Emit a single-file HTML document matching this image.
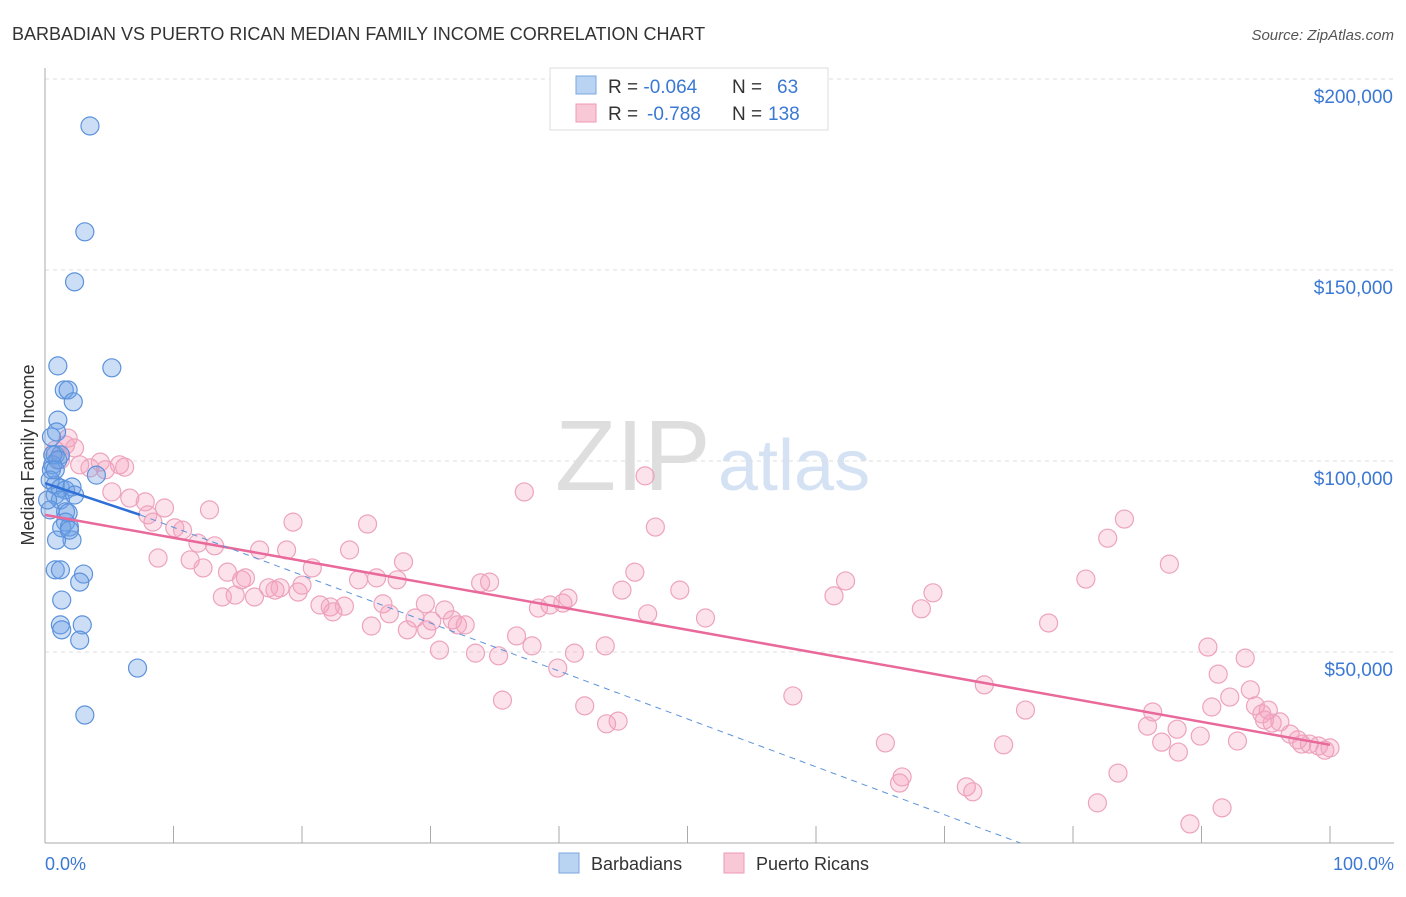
<!DOCTYPE html>
<html><head><meta charset="utf-8"><style>
body{margin:0;background:#fff;font-family:"Liberation Sans",sans-serif;}
svg text{font-family:"Liberation Sans",sans-serif;}
</style></head><body>
<svg id="chart" width="1406" height="892">
<text x="12" y="40" font-size="18" fill="#333">BARBADIAN VS PUERTO RICAN MEDIAN FAMILY INCOME CORRELATION CHART</text>
<text x="1394" y="40" font-size="15" fill="#555" font-style="italic" text-anchor="end">Source: ZipAtlas.com</text>
<text x="555" y="490" font-size="100" fill="#dedede" font-family="Liberation Serif">ZIP</text>
<text x="718" y="490" font-size="72" fill="#d4e2f4">atlas</text>
<g id="grid"></g>
<g id="axes"></g>
<g id="marks"></g>
<text transform="translate(34,455) rotate(-90)" font-size="18" fill="#333" text-anchor="middle">Median Family Income</text>
<text x="45" y="870" font-size="18" fill="#3a78d4">0.0%</text>
<text x="1394" y="870" font-size="18" fill="#3a78d4" text-anchor="end">100.0%</text>
<g>
<rect x="550" y="68" width="278" height="62" fill="#fff" stroke="#ddd"/>
<rect x="576" y="76" width="20" height="18" fill="#b9d3f3" stroke="#7aa7e0"/>
<rect x="576" y="104" width="20" height="18" fill="#f9c8d6" stroke="#ee9ab4"/>
<text x="608" y="93" font-size="19" fill="#333">R = <tspan fill="#3a78d4">-0.064</tspan><tspan x="732">N = </tspan><tspan x="777" fill="#3a78d4">63</tspan></text>
<text x="608" y="120" font-size="19" fill="#333">R = <tspan x="647" fill="#3a78d4">-0.788</tspan><tspan x="732">N = </tspan><tspan x="768" fill="#3a78d4">138</tspan></text>
</g>
<g>
<rect x="559" y="853" width="20" height="20" fill="#b9d3f3" stroke="#7aa7e0"/>
<text x="591" y="870" font-size="18" fill="#333">Barbadians</text>
<rect x="724" y="853" width="20" height="20" fill="#f9c8d6" stroke="#ee9ab4"/>
<text x="756" y="870" font-size="18" fill="#333">Puerto Ricans</text>
</g>
</svg>
<script>
const yTicks=[50,100,150,200];
const yTickLabels=["$50,000","$100,000","$150,000","$200,000"];
const xTicks=[0,10,20,30,40,50,60,70,80,90,100];
const blueX=[3.5,3.1,2.3,5.2,1.0,1.5,1.8,2.2,1.0,0.9,0.5,0.8,1.2,0.6,0.5,0.4,0.8,1.2,1.6,2.1,4.0,0.8,1.2,1.6,1.8,1.6,1.3,1.9,2.1,0.9,0.8,1.2,3.0,2.7,1.3,2.9,1.2,1.3,2.7,7.2,3.1,0.4,1.9,2.3,0.6,1.0,0.8,0.2];
const blueY=[187.7,160.0,146.9,124.4,124.9,118.6,118.6,115.5,110.7,107.6,106.3,101.6,101.6,99.0,97.7,95.0,93.7,92.9,92.4,93.2,96.3,91.1,89.8,86.7,86.4,84.0,82.5,82.7,79.3,79.3,71.5,71.5,70.4,68.3,63.6,57.1,57.1,55.8,53.1,45.8,33.5,87.2,81.9,91.1,101.6,100.3,97.7,89.8];
const pinkX=[0.8,1.6,1.8,1.2,2.3,2.7,3.5,4.3,4.7,5.8,6.2,5.2,6.6,7.8,8.0,9.3,8.4,10.1,10.7,8.8,11.3,11.9,12.8,12.3,13.2,13.8,14.2,14.8,15.3,15.6,16.3,16.7,17.4,17.9,18.3,18.8,19.3,19.7,20.0,20.8,21.4,22.2,22.4,23.3,23.7,24.4,25.1,25.4,25.8,26.3,26.8,27.4,27.9,28.2,28.8,29.6,29.7,30.1,30.7,31.1,31.7,32.1,32.7,33.5,33.9,34.6,35.3,35.6,36.7,37.3,37.9,38.4,39.3,40.3,40.7,39.9,41.2,42.0,43.6,43.7,44.6,44.9,45.9,46.7,46.9,47.5,49.4,51.4,58.2,61.4,62.3,65.4,66.5,66.7,68.2,69.1,71.7,72.2,73.1,74.6,76.3,78.1,81.0,81.9,82.7,83.5,84.0,85.8,86.2,86.9,87.5,88.1,88.2,89.1,89.9,90.5,90.8,91.3,91.6,92.2,92.8,93.4,93.8,94.2,94.7,95.2,95.5,96.1,96.9,97.8,98.4,99.1,99.6,100,97.5,94.9];
const pinkY=[102.9,104.2,106.0,100.3,103.4,99.0,98.2,99.7,97.7,99.0,98.4,91.9,90.3,89.3,85.9,87.7,84.0,82.5,81.9,74.6,74.1,78.5,87.2,72.0,77.8,64.4,70.9,64.9,68.9,69.4,64.4,76.7,66.8,66.2,66.8,76.7,84.0,65.7,67.5,72.0,62.3,61.8,60.5,62.0,76.7,68.9,83.5,56.8,69.4,62.6,60.0,68.9,73.6,55.8,58.9,62.6,55.8,58.1,50.5,61.0,58.4,57.1,57.1,49.7,68.1,68.3,49.0,37.4,54.2,91.9,51.6,61.5,62.3,62.8,64.1,45.8,49.7,35.9,51.6,31.2,31.9,66.2,70.9,96.1,60.0,82.7,66.2,58.9,38.5,64.7,68.6,26.2,15.7,17.3,61.3,65.5,14.7,13.4,41.4,25.7,34.8,57.6,69.1,10.5,79.8,18.3,84.8,30.6,34.3,26.4,73.0,29.8,23.8,5.0,28.0,51.3,35.6,44.2,9.2,38.2,26.7,48.4,40.1,35.9,33.8,34.8,31.4,31.7,28.5,25.9,25.9,25.4,24.3,24.9,27.0,32.2];
const blueTrendX=[0,7.4],blueTrendY=[94.2,85.9];
const blueDashX=[7.4,75.9],blueDashY=[85.9,0];
const pinkTrendX=[0,100],pinkTrendY=[85.9,25.7];

const NS="http://www.w3.org/2000/svg";
const xs=v=>45+v*12.85;
const ys=v=>843-v*3.82;
function mk(tag,attrs,parent){const e=document.createElementNS(NS,tag);for(const k in attrs)e.setAttribute(k,attrs[k]);document.getElementById(parent).appendChild(e);return e;}
yTicks.forEach((t,i)=>{
 const l=mk('line',{x1:45,x2:1394,y1:ys(t),y2:ys(t),stroke:'#ddd','stroke-dasharray':'4,4'},'grid');
 
 
 const tx=mk('text',{x:1393,y:ys(t)+24,'font-size':19,fill:'#3a78d4','text-anchor':'end'},'grid');
 tx.textContent=yTickLabels[i];
 
 
});
const ya=mk('line',{x1:45,x2:45,y1:68,y2:843,stroke:'#aaa'},'axes');


const xa=mk('line',{x1:45,x2:1394,y1:843,y2:843,stroke:'#aaa'},'axes');


xTicks.forEach(t=>{
 const l=mk('line',{x1:xs(t),x2:xs(t),y1:826,y2:843,stroke:'#aaa'},'axes');
 
 
});
pinkX.forEach((x,i)=>{
 const c=mk('circle',{cx:xs(x),cy:ys(pinkY[i]),r:9,fill:'rgba(244,160,190,0.3)',stroke:'#eda3bd','stroke-width':1.2},'marks');
 
 
});
blueX.forEach((x,i)=>{
 const c=mk('circle',{cx:xs(x),cy:ys(blueY[i]),r:9,fill:'rgba(110,160,230,0.35)',stroke:'#5c92dc','stroke-width':1.2},'marks');
 
 
});
const pt=mk('line',{x1:xs(pinkTrendX[0]),y1:ys(pinkTrendY[0]),x2:xs(pinkTrendX[1]),y2:ys(pinkTrendY[1]),stroke:'#e8699a','stroke-width':2.5},'marks');


const bd=mk('line',{x1:xs(blueDashX[0]),y1:ys(blueDashY[0]),x2:xs(blueDashX[1]),y2:ys(blueDashY[1]),stroke:'#5c92dc','stroke-width':1,'stroke-dasharray':'6,5'},'marks');


const bt=mk('line',{x1:xs(blueTrendX[0]),y1:ys(blueTrendY[0]),x2:xs(blueTrendX[1]),y2:ys(blueTrendY[1]),stroke:'#2f6fd6','stroke-width':2.5},'marks');


</script>
</body></html>
